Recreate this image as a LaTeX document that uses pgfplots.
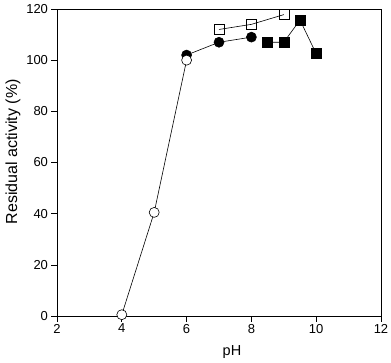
\documentclass[border=0pt]{standalone}
\usepackage{pgfplots}
\pgfplotsset{compat=1.18}
\usepackage{fontspec}
\setmainfont{Liberation Sans}
\begin{document}
\begin{tikzpicture}
\useasboundingbox (-57pt,-46pt) rectangle (334pt,316pt);
\begin{axis}[
  at={(0,0)}, anchor=south west,
  scale only axis, width=324pt, height=307pt,
  xmin=2, xmax=12, ymin=0, ymax=120,
  xtick={2,4,...,12}, ytick={0,20,...,120},
  tick align=outside, xtick pos=bottom, ytick pos=left,
  major tick length=5.5pt,
  tick style={black, line width=0.6pt},
  axis line style={line width=0.9pt},
  /pgf/number format/assume math mode=true,
  tick label style={font=\fontsize{13}{15}\selectfont},
  xticklabel style={yshift=1pt},
  xlabel={pH}, ylabel={Residual activity (\%)},
  xlabel style={font=\fontsize{14.5}{16}\selectfont, at={(axis description cs:0.54,-0.117)}, anchor=center},
  ylabel style={font=\fontsize{16}{18}\selectfont, at={(axis description cs:-0.136,0.535)}, anchor=center},
]
\addplot[black, line width=0.6pt, mark=*, mark size=5pt, mark options={fill=black}] coordinates {(6,102) (7,107) (8,109)};
\addplot[black, line width=0.6pt, mark=*, mark size=5pt, mark options={fill=white}] coordinates {(4,0.5) (5,40.5) (6,100)};
\addplot[black, line width=0.6pt, mark=square, mark size=5pt, mark options={fill=white}] coordinates {(7,112) (8,114) (9,117.8)};
\addplot[black, line width=0.6pt, mark=square*, mark size=5pt, mark options={fill=black}] coordinates {(8.5,107) (9,107) (9.5,115.7) (10,102.5)};
\end{axis}
\end{tikzpicture}
\end{document}
